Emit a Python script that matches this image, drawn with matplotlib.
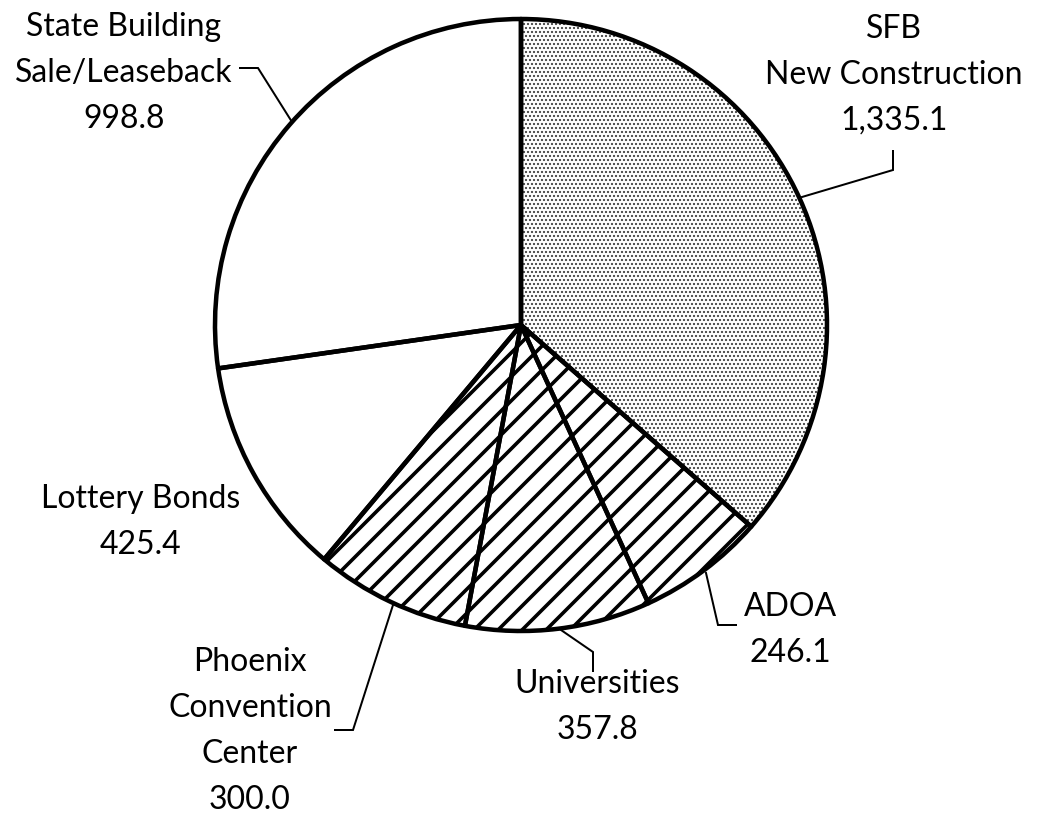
import matplotlib
matplotlib.use("Agg")
import matplotlib.pyplot as plt

labels = ["SFB\nNew Construction", "ADOA", "Universities",
          "Phoenix\nConvention\nCenter", "Lottery Bonds",
          "State Building\nSale/Leaseback"]
values = [1335.1, 246.1, 357.8, 300.0, 425.4, 998.8]
value_labels = ["1,335.1", "246.1", "357.8", "300.0", "425.4", "998.8"]
hatches = ["...", "/", "/", "/", "", ""]
hatch_colors = ["#3a3a3a", "black", "black", "black", "white", "white"]
hatch_widths = [1.4, 3.6, 3.6, 3.6, 1.0, 1.0]

W, H = 1047, 823
DPI = 72
fig = plt.figure(figsize=(W / DPI, H / DPI), dpi=DPI)
ax = fig.add_axes([0, 0, 1, 1])

cx, cy, r = 521, H - 325, 306

# hatch layer
wedges, _ = ax.pie(values, startangle=90, counterclock=False,
                   center=(cx, cy), radius=r, frame=True,
                   colors=["white"] * len(values),
                   wedgeprops=dict(linewidth=0))
for w, h, c, lw in zip(wedges, hatches, hatch_colors, hatch_widths):
    w.set_hatch(h)
    w.set_edgecolor(c)
    w.set_linewidth(0)
    w._hatch_linewidth = lw

# outline layer
ax.pie(values, startangle=90, counterclock=False, center=(cx, cy), radius=r,
       frame=True, colors=["none"] * len(values),
       wedgeprops=dict(linewidth=4.5, edgecolor="black", joinstyle="round"))
ax.set_xlim(0, W)
ax.set_ylim(0, H)
ax.set_aspect("equal")
ax.axis("off")

font = dict(family="Lato", fontsize=32, color="black", ha="center",
            va="center", linespacing=1.66)

# label positions (pixel coords, y from top)
label_pos = [(894, 75), (790, 630), (597, 707), (250, 731), (141, 522), (124, 73)]
for lab, val, (x, y) in zip(labels, value_labels, label_pos):
    ax.text(x, H - y, lab + "\n" + val, **font)

# leader lines (pixel coords, y from top)
leaders = [
    [(802, 197), (893, 170), (893, 151)],
    [(706, 573), (718, 625), (736, 625)],
    [(561, 630), (593, 652), (593, 671)],
    [(393, 605), (353, 730), (335, 730)],
    [(292, 122), (258, 68), (240, 68)],
]
for pts in leaders:
    xs = [p[0] for p in pts]
    ys = [H - p[1] for p in pts]
    ax.plot(xs, ys, color="black", linewidth=2, solid_joinstyle="miter")

fig.savefig("out.png", dpi=DPI, facecolor="white")
